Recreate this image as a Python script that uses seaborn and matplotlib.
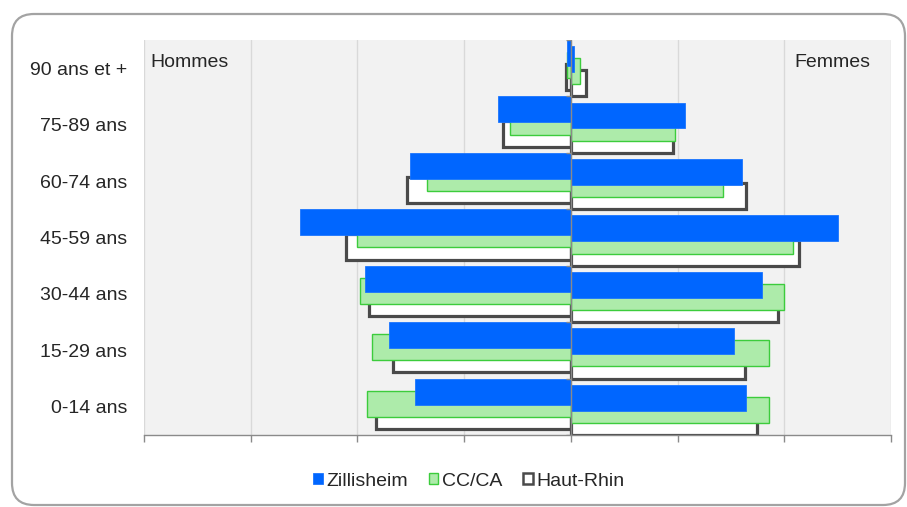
import numpy as np
import matplotlib
matplotlib.use("Agg")
import matplotlib.pyplot as plt
import seaborn as sns
from matplotlib.patches import FancyBboxPatch, Patch
from matplotlib.transforms import IdentityTransform

# Age groups, top to bottom
age_groups = ["90 ans et +", "75-89 ans", "60-74 ans", "45-59 ans",
              "30-44 ans", "15-29 ans", "0-14 ans"]

# Share of the total population (%), men and women
zillisheim_hommes = [0.2, 3.4, 7.55, 12.7, 9.65, 8.5, 7.3]
zillisheim_femmes = [0.15, 5.35, 8.0, 12.5, 8.95, 7.65, 8.2]
cc_ca_hommes = [0.2, 2.85, 6.75, 10.0, 9.9, 9.3, 9.55]
cc_ca_femmes = [0.45, 4.9, 7.15, 10.4, 10.0, 9.3, 9.3]
haut_rhin_hommes = [0.25, 3.2, 7.7, 10.55, 9.45, 8.35, 9.15]
haut_rhin_femmes = [0.7, 4.8, 8.2, 10.7, 9.7, 8.15, 8.7]

series_names = ["Zillisheim", "CC/CA", "Haut-Rhin"]

sns.set_theme(style="white")
plt.rcParams["font.family"] = ["Liberation Sans", "DejaVu Sans"]
text_color = "#262626"
axis_gray = "#8a8a8a"

styles = {
    "Zillisheim": dict(color="#0066ff", edgecolor="#1a75ff", linewidth=0.6),
    "CC/CA": dict(color="#adebaa", edgecolor="#3ccc3c", linewidth=1.0),
    "Haut-Rhin": dict(color="white", edgecolor="#4a4a4a", linewidth=2.3),
}
data = {
    "Zillisheim": (zillisheim_hommes, zillisheim_femmes),
    "CC/CA": (cc_ca_hommes, cc_ca_femmes),
    "Haut-Rhin": (haut_rhin_hommes, haut_rhin_femmes),
}

fig = plt.figure(figsize=(9.07, 5.07), dpi=100)
ax = fig.add_axes([144 / 907, 1 - 435 / 507, 747 / 907, 395 / 507])
ax.set_facecolor("#f2f2f2")

n = len(age_groups)
idx = np.arange(n)
bar_h = 0.46
step = (1 - bar_h) / 5

# Six overlapping bars per age group: series k, men then women
for k in reversed(range(len(series_names))):
    name = series_names[k]
    hommes, femmes = data[name]
    for side, vals, sign in ((0, hommes, -1), (1, femmes, 1)):
        j = 2 * k + side
        pos = idx - 0.5 + bar_h / 2 + j * step
        sns.barplot(x=sign * np.asarray(vals, dtype=float), y=pos, orient="y",
                    native_scale=True, width=bar_h, saturation=1, ax=ax,
                    **styles[name])

ax.set_xlim(-20, 15)
ax.set_ylim(n - 0.5, -0.5)
ax.set_xticks(np.arange(-20, 16, 5))
ax.set_xticklabels([])
ax.set_xlabel("")
ax.set_ylabel("")
ax.grid(axis="x", color="#d9d9d9", linewidth=1.0)
ax.grid(axis="y", visible=False)
ax.set_axisbelow(True)
for s in ("top", "left", "right"):
    ax.spines[s].set_visible(False)
ax.spines["bottom"].set_color(axis_gray)
ax.spines["bottom"].set_linewidth(1.0)
ax.tick_params(axis="x", bottom=True, length=5, width=1, color=axis_gray, direction="out")

ax.set_yticks(idx)
ax.set_yticklabels(age_groups, fontsize=14, color=text_color)
ax.tick_params(axis="y", left=False, length=0, pad=12)

# Central axis with group separators
ax.axvline(0, color=axis_gray, linewidth=1.0, zorder=10)
ax.hlines(np.arange(-0.5, n), -0.25, 0, color=axis_gray, linewidth=1.0, zorder=10)

ax.text(0.008, 0.942, "Hommes", transform=ax.transAxes, ha="left", va="center",
        fontsize=14, color=text_color)
ax.text(0.973, 0.942, "Femmes", transform=ax.transAxes, ha="right", va="center",
        fontsize=14, color=text_color)

handles = [Patch(facecolor=styles[nm]["color"], edgecolor=styles[nm]["edgecolor"],
                 linewidth=min(styles[nm]["linewidth"], 1.8), label=nm)
           for nm in series_names]
fig.legend(handles=handles, loc="center", bbox_to_anchor=(469 / 907, 1 - 481 / 507),
           ncol=3, frameon=False, fontsize=14, handlelength=0.5, handleheight=0.5,
           handletextpad=0.2, columnspacing=1.05, labelcolor=text_color)

# Rounded frame around the chart
frame = FancyBboxPatch((12, 2), 893, 491, boxstyle="round,pad=0,rounding_size=22",
                       transform=IdentityTransform(), facecolor="none",
                       edgecolor="#a3a3a3", linewidth=1.6)
fig.patches.append(frame)

fig.savefig("out.png", dpi=100)
